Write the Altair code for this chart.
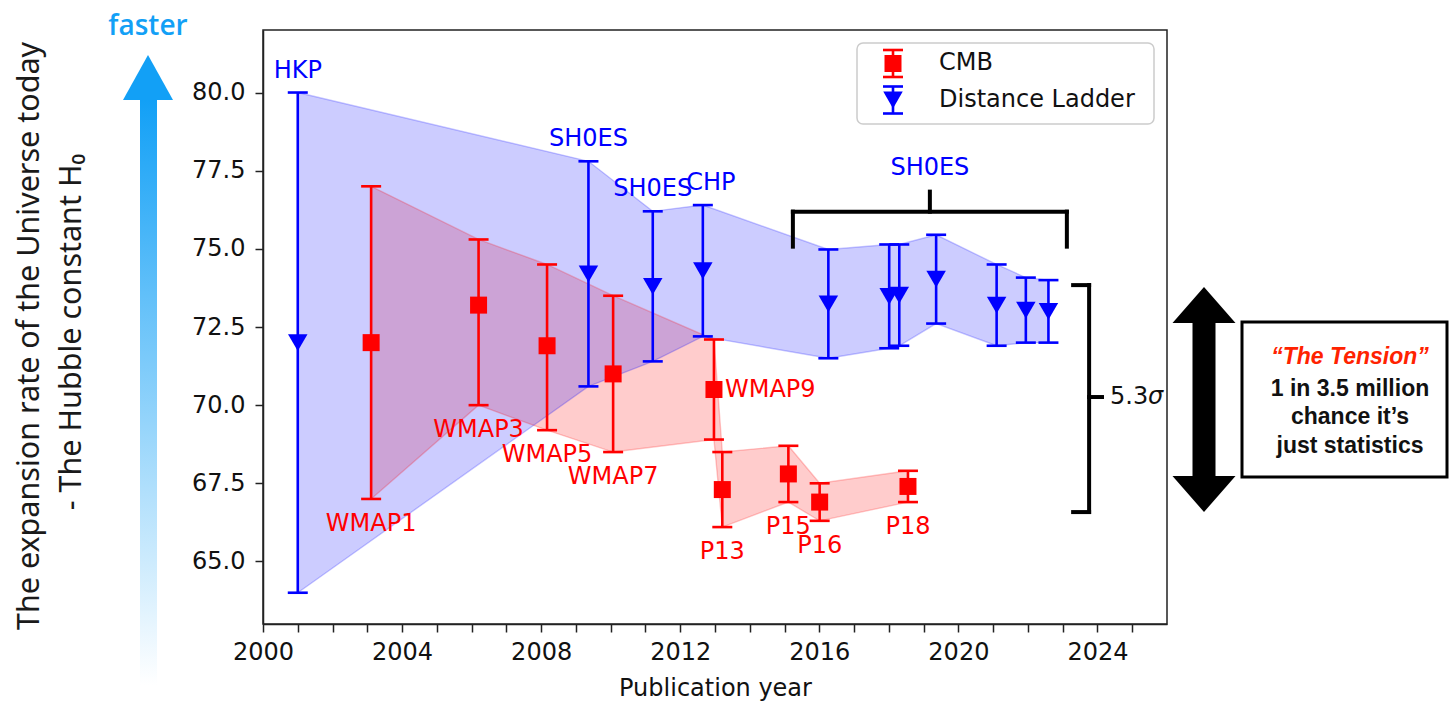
import altair as alt
import pandas as pd

FONT = "DejaVu Sans"
RED = "#ff0000"
BLUE = "#0000ff"
SKY = "#12a0f6"

# CMB-based determinations of H0 (km/s/Mpc)
cmb_names = ["WMAP1", "WMAP3", "WMAP5", "WMAP7", "WMAP9", "P13", "P15", "P16", "P18"]
cmb_year = [2003.11, 2006.20, 2008.17, 2010.07, 2012.97, 2013.21, 2015.11, 2016.01, 2018.55]
cmb_h0 = [72.0, 73.2, 71.9, 71.0, 70.5, 67.3, 67.8, 66.9, 67.4]
cmb_low = [67.0, 70.0, 69.2, 68.5, 68.9, 66.1, 66.9, 66.3, 66.9]
cmb_high = [77.0, 75.3, 74.5, 73.5, 72.1, 68.5, 68.7, 67.5, 67.9]

# Distance-ladder determinations of H0
dl_names = ["HKP", "SH0ES", "SH0ES", "CHP", "SH0ES", "SH0ES", "SH0ES", "SH0ES", "SH0ES", "SH0ES", "SH0ES"]
dl_year = [2001.0, 2009.36, 2011.21, 2012.65, 2016.26, 2018.01, 2018.30, 2019.36, 2021.10, 2021.94, 2022.59]
dl_h0 = [72.0, 74.2, 73.8, 74.3, 73.24, 73.48, 73.52, 74.03, 73.2, 73.04, 73.0]
dl_low = [64.0, 70.6, 71.4, 72.2, 71.5, 71.82, 71.9, 72.61, 71.9, 72.0, 72.0]
dl_high = [80.0, 77.8, 76.2, 76.4, 74.98, 75.14, 75.14, 75.45, 74.5, 74.08, 74.0]

# Bracket over the recent SH0ES results and the 5.3 sigma bracket
top_bracket_x = [2015.24, 2023.12, 2019.18]
top_bracket_y = [76.19, 75.07, 76.83]
gap_bracket_x = [2023.30, 2023.76, 2024.13]
gap_bracket_y = [73.84, 70.26, 66.58]

x_ticks = list(range(2000, 2026))
y_ticks = [65.0, 67.5, 70.0, 72.5, 75.0, 77.5, 80.0]

cmb = pd.DataFrame({"name": cmb_names, "year": cmb_year, "h0": cmb_h0,
                    "low": cmb_low, "high": cmb_high})
dl = pd.DataFrame({"name": dl_names, "year": dl_year, "h0": dl_h0,
                   "low": dl_low, "high": dl_high})

bx0, bx1, bxc = top_bracket_x
by_bar, by_end, by_tip = top_bracket_y
gx_end, gx_bar, gx_tip = gap_bracket_x
gy_top, gy_mid, gy_bot = gap_bracket_y
brackets = pd.DataFrame({
    "xa": [bx0, bx0, bx1, bxc, gx_bar, gx_end, gx_end, gx_bar],
    "xb": [bx1, bx0, bx1, bxc, gx_bar, gx_bar, gx_bar, gx_tip],
    "ya": [by_bar, by_bar, by_bar, by_bar, gy_top, gy_top, gy_bot, gy_mid],
    "yb": [by_bar, by_end, by_end, by_tip, gy_bot, gy_top, gy_bot, gy_mid],
})

x_scale = alt.Scale(domain=[2000, 2026], nice=False, zero=False)
y_scale = alt.Scale(domain=[63, 82], nice=False, zero=False)
x_axis = alt.Axis(values=x_ticks, format="d", title="Publication year",
                  labelExpr="datum.value % 4 === 0 ? datum.label : ''")
y_axis = alt.Axis(values=y_ticks, format=".1f", title=None)


def X(field):
    return alt.X(f"{field}:Q", scale=x_scale, axis=x_axis)


def Y(field):
    return alt.Y(f"{field}:Q", scale=y_scale, axis=y_axis)


one = pd.DataFrame({"k": [0]})
layers = []

# shaded envelopes (CMB first, ladder on top)
for df, col in [(cmb, RED), (dl, BLUE)]:
    layers.append(alt.Chart(df).mark_area(color=col, opacity=0.2)
                  .encode(x=X("year"), y=Y("low"), y2="high:Q"))
for df, col in [(cmb, RED), (dl, BLUE)]:
    for f in ["low", "high"]:
        layers.append(alt.Chart(df).mark_line(color=col, opacity=0.22, strokeWidth=1.4)
                      .encode(x=X("year"), y=Y(f)))

# error bars, caps and markers
for df, col, shape, size in [(cmb, RED, "square", 289), (dl, BLUE, "triangle-down", 380)]:
    layers.append(alt.Chart(df).mark_rule(color=col, strokeWidth=2.6)
                  .encode(x=X("year"), y=Y("low"), y2="high:Q"))
    for f in ["low", "high"]:
        layers.append(alt.Chart(df).mark_tick(color=col, orient="horizontal", size=20,
                                              thickness=2.6, opacity=1)
                      .encode(x=X("year"), y=Y(f)))
    layers.append(alt.Chart(df).mark_point(shape=shape, filled=True, size=size,
                                           color=col, opacity=1)
                  .encode(x=X("year"), y=Y("h0")))

# point labels
lab = dict(font=FONT, fontSize=24, baseline="middle")
cmb_below = cmb[cmb["name"] != "WMAP9"]
layers.append(alt.Chart(cmb_below).transform_calculate(ly="datum.low - 0.8")
              .mark_text(color=RED, align="center", **lab)
              .encode(x=X("year"), y=Y("ly"), text="name:N"))
layers.append(alt.Chart(cmb[cmb["name"] == "WMAP9"])
              .mark_text(color=RED, align="left", dx=11, **lab)
              .encode(x=X("year"), y=Y("h0"), text="name:N"))
layers.append(alt.Chart(dl.iloc[:3]).transform_calculate(ly="datum.high + 0.7")
              .mark_text(color=BLUE, align="center", **lab)
              .encode(x=X("year"), y=Y("ly"), text="name:N"))
layers.append(alt.Chart(dl.iloc[3:4]).transform_calculate(ly="datum.high + 0.7")
              .mark_text(color=BLUE, align="center", dx=8, **lab)
              .encode(x=X("year"), y=Y("ly"), text="name:N"))
layers.append(alt.Chart(pd.DataFrame({"xa": [bxc], "ya": [by_tip + 0.74], "t": ["SH0ES"]}))
              .mark_text(color=BLUE, align="center", **lab)
              .encode(x=X("xa"), y=Y("ya"), text="t:N"))

# brackets
layers.append(alt.Chart(brackets).mark_rule(color="black", strokeWidth=4, strokeCap="square")
              .encode(x=X("xa"), x2="xb:Q", y=Y("ya"), y2="yb:Q"))
sig = pd.DataFrame({"xa": [gx_tip + 0.23], "ya": [gy_mid]})
layers.append(alt.Chart(sig).mark_text(text="5.3", align="left", color="#111111", **lab)
              .encode(x=X("xa"), y=Y("ya")))
layers.append(alt.Chart(sig).mark_text(text="σ", align="left", dx=38, fontStyle="italic",
                                       color="#111111", **lab)
              .encode(x=X("xa"), y=Y("ya")))

# legend
layers.append(alt.Chart(one).mark_rect(fill="white", stroke="#cccccc", strokeWidth=1.5,
                                       cornerRadius=6)
              .encode(x=alt.value(594), x2=alt.value(891), y=alt.value(13), y2=alt.value(94)))
for col, shape, size, yc in [(RED, "square", 289, 33.5), (BLUE, "triangle-down", 380, 70)]:
    layers.append(alt.Chart(one).mark_rule(color=col, strokeWidth=2.6)
                  .encode(x=alt.value(630), y=alt.value(yc - 13.5), y2=alt.value(yc + 13.5)))
    for yy in [yc - 13.5, yc + 13.5]:
        layers.append(alt.Chart(one).mark_rule(color=col, strokeWidth=2.6)
                      .encode(x=alt.value(620), x2=alt.value(640), y=alt.value(yy)))
    layers.append(alt.Chart(one).mark_point(shape=shape, filled=True, size=size, color=col,
                                            opacity=1)
                  .encode(x=alt.value(630), y=alt.value(yc)))
for txt, yc in [("CMB", 33), ("Distance Ladder", 70)]:
    layers.append(alt.Chart(one).mark_text(text=txt, align="left", color="#111111", **lab)
                  .encode(x=alt.value(676), y=alt.value(yc)))

# vertical axis caption with the "faster" arrow
title_font = dict(font="Noto Sans", fontSize=30.5, color="#1a1a1a", angle=270,
                  align="center", baseline="middle")
layers.append(alt.Chart(one).mark_text(text="The expansion rate of the Universe today",
                                       **title_font)
              .encode(x=alt.value(-233), y=alt.value(306)))
layers.append(alt.Chart(one).mark_text(text="- The Hubble constant H₀", **title_font)
              .encode(x=alt.value(-191), y=alt.value(302)))
shaft_fill = alt.LinearGradient(gradient="linear", x1=0, x2=0, y1=0, y2=1,
                                stops=[alt.GradientStop(color=SKY, offset=0),
                                       alt.GradientStop(color="#ffffff", offset=1)])
layers.append(alt.Chart(one).mark_rect(fill=shaft_fill)
              .encode(x=alt.value(-123), x2=alt.value(-106), y=alt.value(70), y2=alt.value(655)))
layers.append(alt.Chart(one).mark_point(shape="M0,-22L25,23L-25,23Z", size=4, filled=True,
                                        color=SKY, opacity=1)
              .encode(x=alt.value(-115), y=alt.value(47)))
layers.append(alt.Chart(one).mark_text(text="faster", font="Open Sans", fontSize=28,
                                       fontWeight=600, color=SKY, align="center",
                                       baseline="middle")
              .encode(x=alt.value(-115), y=alt.value(-3)))

# tension call-out on the right
layers.append(alt.Chart(one).mark_point(
    shape="M0,-112.5L31.5,-76.5L11.5,-76.5L11.5,76.5L31.5,76.5L0,112.5L-31.5,76.5"
          "L-11.5,76.5L-11.5,-76.5L-31.5,-76.5Z",
    size=4, filled=True, color="black", opacity=1)
    .encode(x=alt.value(941), y=alt.value(369.5)))
layers.append(alt.Chart(one).mark_rect(fill="white", stroke="black", strokeWidth=3)
              .encode(x=alt.value(979), x2=alt.value(1184), y=alt.value(292), y2=alt.value(447)))
box_font = dict(font="Liberation Sans", fontSize=23, fontWeight="bold", align="center",
                baseline="middle")
layers.append(alt.Chart(one).mark_text(text="“The Tension”", color="#ff2200",
                                       fontStyle="italic", **box_font)
              .encode(x=alt.value(1087), y=alt.value(327)))
for txt, yc in [("1 in 3.5 million", 359), ("chance it’s", 387), ("just statistics", 416)]:
    layers.append(alt.Chart(one).mark_text(text=txt, color="#111111", **box_font)
                  .encode(x=alt.value(1087), y=alt.value(yc)))

chart = (
    alt.layer(*layers)
    .properties(width=904, height=594, background="white",
                autosize=alt.AutoSizeParams(type="none"),
                padding={"left": 263, "top": 30, "right": 283, "bottom": 77})
    .configure_view(stroke="#222222", strokeWidth=1.5)
    .configure_axis(grid=False, domainColor="#222222", domainWidth=1.5,
                    tickColor="#222222", tickWidth=1.5, tickSize=8,
                    labelFont=FONT, labelFontSize=24, labelColor="#111111",
                    titleFont=FONT, titleFontSize=24, titleColor="#111111",
                    titleFontWeight="normal", labelOverlap=False, labelFlush=False)
    .configure_axisX(labelPadding=8, titlePadding=12)
    .configure_axisY(labelPadding=10)
)

chart.save("out.html", embed_options={"renderer": "svg", "actions": False})
